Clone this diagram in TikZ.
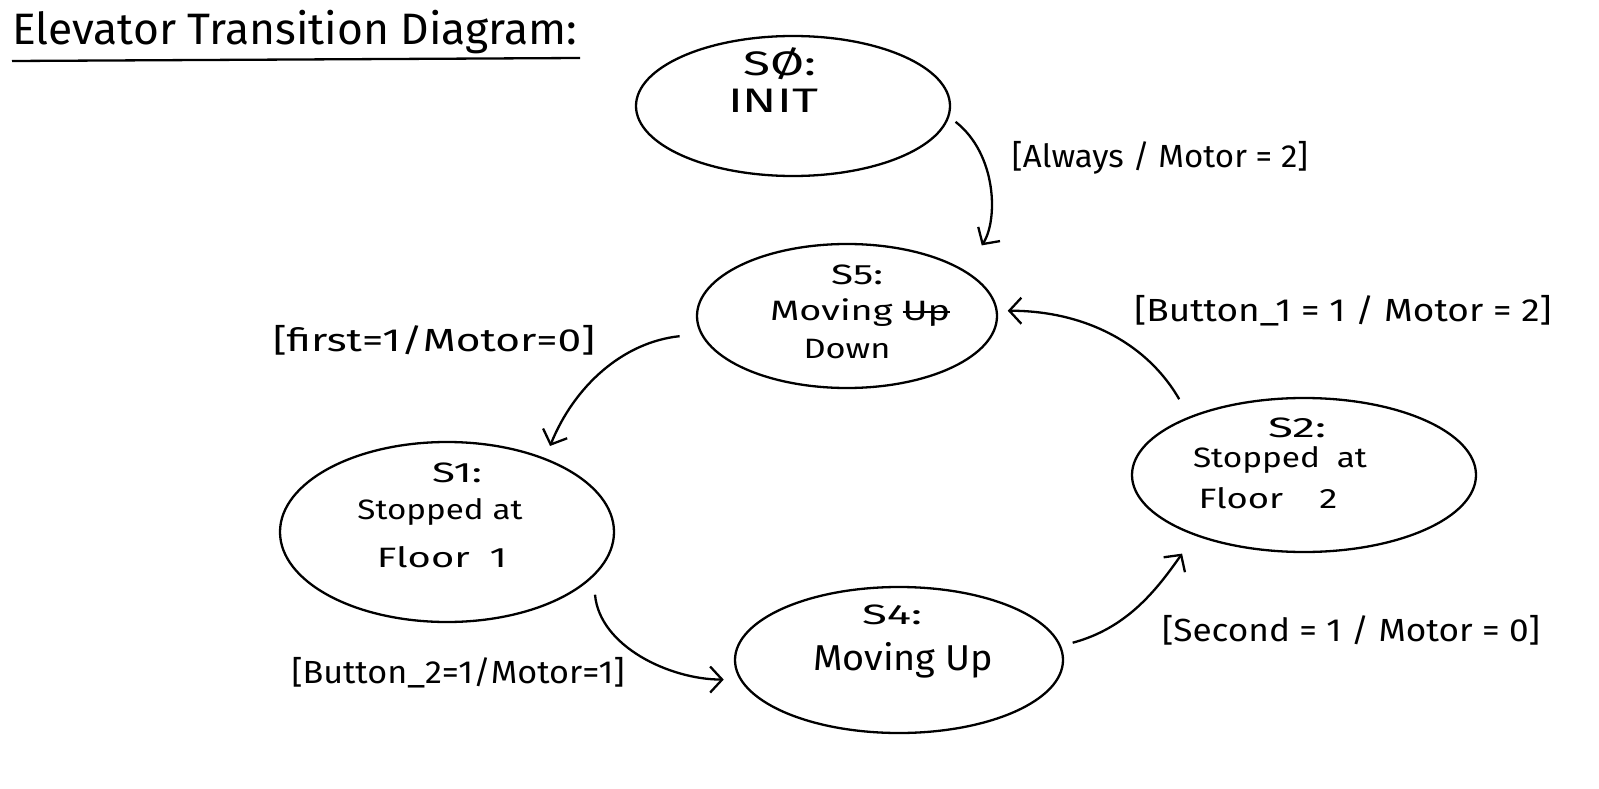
\documentclass[tikz,border=0pt]{standalone}
\usepackage{fontspec}
\usepackage{graphicx}
\setmainfont{Fira Sans}
\usetikzlibrary{shapes.geometric,arrows.meta}
\newcommand\strikethru[1]{{\setbox0\hbox{#1}\rlap{\rule[0.3em]{\wd0}{1.8pt}}\box0}}
\newcommand\sw[2]{\resizebox{#1pt}{\height}{#2}}
\begin{document}
\begin{tikzpicture}[x=1pt,y=1pt,
  state/.style={ellipse, draw, line width=2.3pt, inner sep=0pt},
  stxt/.style={font=\fontsize{28}{30}\selectfont, inner sep=0pt},
  lbl/.style={font=\fontsize{32}{34}\selectfont, inner sep=0pt},
  tr/.style={line width=2.3pt, -{Straight Barb[length=12pt,width=26pt,line width=2.3pt]}}]
\useasboundingbox (0,0) rectangle (1599,-789);

% title
\node[anchor=base west, font=\fontsize{44}{46}\selectfont, inner sep=0pt] (title) at (12,-45) {\sw{565}{Elevator Transition Diagram:}};
\coordinate (ulA) at (12,-61);
\coordinate (ulB) at (580,-58);
\draw[line width=2.3pt] (ulA) -- (ulB);

% states
\node[state, minimum width=314pt, minimum height=140pt] (s0) at (793,-106) {};
\node[state, minimum width=300pt, minimum height=144pt] (s5) at (847,-316) {};
\node[state, minimum width=334pt, minimum height=180pt] (s1) at (447,-532) {};
\node[state, minimum width=344pt, minimum height=154pt] (s2) at (1304,-475) {};
\node[state, minimum width=328pt, minimum height=146pt] (s4) at (899,-660) {};

% state texts
\node[stxt, font=\fontsize{34}{36}\selectfont] (t0a) at (780,-64) {\sw{73}{SØ:}};
\node[stxt, font=\fontsize{34}{36}\selectfont] (t0b) at (773,-101) {\sw{90}{INIT}};
\node[stxt] (t5a) at (857,-275) {\sw{52}{S5:}};
\node[stxt] (t5b) at (860,-313) {\sw{180}{Moving \strikethru{Up}}};
\node[stxt] (t5c) at (847,-349) {\sw{87}{Down}};
\node[stxt] (t1a) at (457,-473) {\sw{50}{S1:}};
\node[stxt] (t1b) at (440,-512) {\sw{165}{Stopped at}};
\node[stxt] (t1c) at (442,-557) {\sw{130}{Floor\enspace 1}};
\node[stxt] (t2a) at (1297,-428) {\sw{58}{S2:}};
\node[stxt] (t2b) at (1280,-460) {\sw{174}{Stopped\enspace at}};
\node[stxt] (t2c) at (1268,-498) {\sw{139}{Floor\quad 2}};
\node[stxt] (t4a) at (892,-615) {\sw{60}{S4:}};
\node[stxt, font=\fontsize{36}{38}\selectfont] (t4b) at (903,-660) {\sw{180}{Moving Up}};

% transitions
\draw[tr, shorten <=8pt, shorten >=30pt] (s0.-4) to[out=-38, in=57] (s5.21);
\draw[tr, shorten <=21pt, shorten >=13pt] (s5.187) to[out=186, in=68] (s1.37);
\draw[tr, shorten <=18pt, shorten >=16pt] (s1.-17) to[out=-85, in=180] (s4.187);
\draw[tr, shorten <=12pt, shorten >=22pt] (s4.5) to[out=15, in=235] (s2.209);
\draw[tr, shorten <=20pt, shorten >=10pt] (s2.153) to[out=120, in=0] (s5.2);

% labels
\node[lbl] (l1) at (1160,-158) {\sw{296}{[Always / Motor = 2]}};
\node[lbl] (l2) at (434,-340) {\sw{322}{[first=1/Motor=0]}};
\node[lbl] (l3) at (458,-673) {\sw{333}{[Button\_2=1/Motor=1]}};
\node[lbl] (l4) at (1351,-630) {\sw{378}{[Second = 1 / Motor = 0]}};
\node[lbl] (l5) at (1343,-311) {\sw{417}{[Button\_1 = 1 / Motor = 2]}};
\end{tikzpicture}
\end{document}
